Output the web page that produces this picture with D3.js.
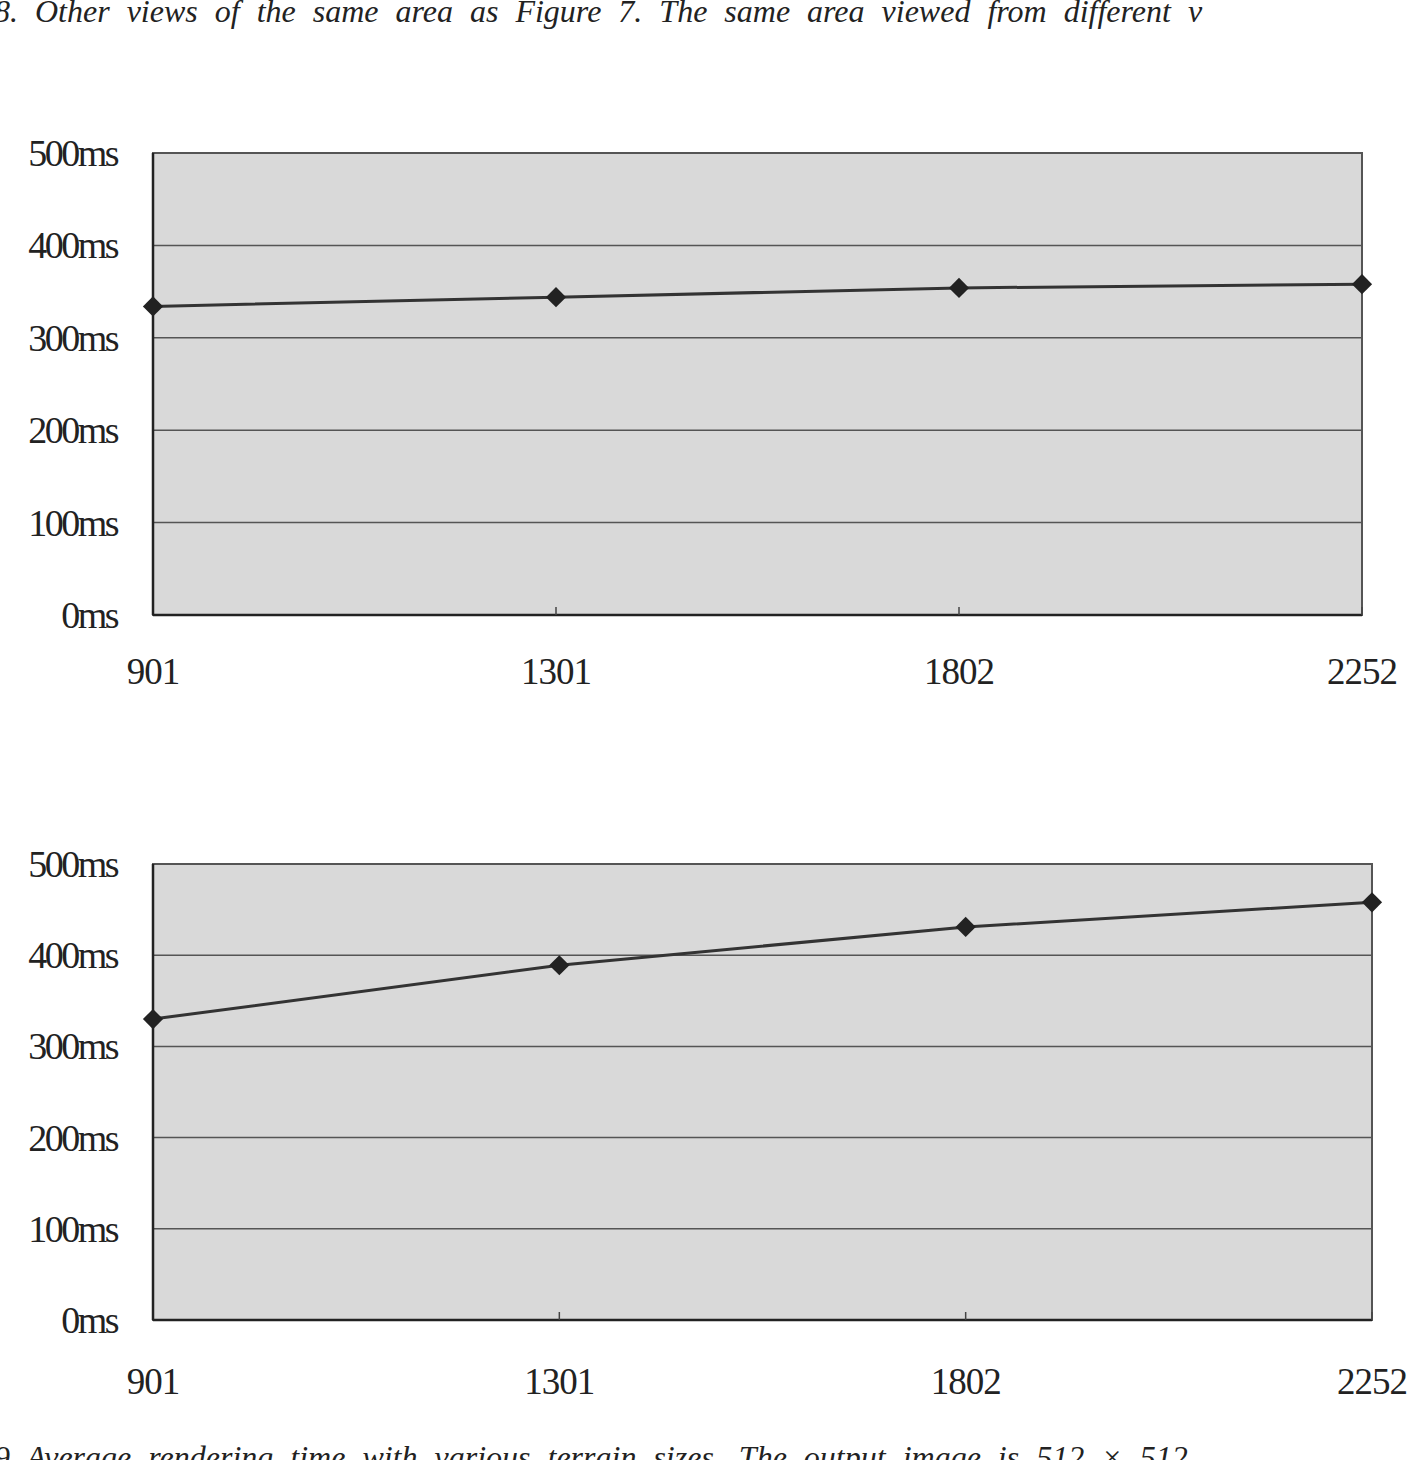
<!DOCTYPE html>
<html><head><meta charset="utf-8">
<script src="https://cdn.jsdelivr.net/npm/d3@7"></script>
<style>body{margin:0;background:#fff}svg text{font-family:"Liberation Serif","DejaVu Serif",serif;fill:#222}</style>
</head><body><svg id="c" width="1408" height="1460"></svg>
<script>
const categories=["901","1301","1802","2252"];
const seriesTop=[334,344,354,358];
const seriesBottom=[330,389,431,458];
const yTicks=[0,100,200,300,400,500];
const captionTop="8. Other views of the same area as Figure 7. The same area viewed from different v";
const captionBottom="9 Average rendering time with various terrain sizes. The output image is 512 \u00d7 512";

const svg=d3.select("#c");
svg.append("text").attr("x",-6).attr("y",22).attr("font-size",32).attr("font-style","italic").attr("word-spacing",9).text(captionTop);
svg.append("text").attr("x",-6).attr("y",1468).attr("font-size",32).attr("font-style","italic").attr("word-spacing",9).text(captionBottom);

function chart(values,left,right,top,bottom,labelY){
  const g=svg.append("g");
  const x=d3.scalePoint().domain(categories).range([left,right]);
  const y=d3.scaleLinear().domain([0,500]).range([bottom,top]);
  g.append("rect").attr("x",left).attr("y",top).attr("width",right-left).attr("height",bottom-top).attr("fill","#d9d9d9").attr("stroke","#555").attr("stroke-width",2);
  g.selectAll(".grid").data(yTicks.slice(1,-1)).join("line").attr("x1",left).attr("x2",right).attr("y1",d=>y(d)).attr("y2",d=>y(d)).attr("stroke","#555").attr("stroke-width",1.5);
  g.append("line").attr("x1",left).attr("x2",right).attr("y1",bottom).attr("y2",bottom).attr("stroke","#222").attr("stroke-width",2.5);
  g.append("line").attr("x1",left).attr("x2",left).attr("y1",top).attr("y2",bottom).attr("stroke","#222").attr("stroke-width",2.5);
  g.selectAll(".tk").data(categories.slice(1)).join("line").attr("x1",d=>x(d)).attr("x2",d=>x(d)).attr("y1",bottom).attr("y2",bottom-8).attr("stroke","#444").attr("stroke-width",1.5);
  g.selectAll(".yl").data(yTicks).join("text").attr("x",117).attr("y",d=>y(d)+13).attr("text-anchor","end").attr("font-size",38).attr("letter-spacing",-2.5).text(d=>d+"ms");
  g.selectAll(".xl").data(categories).join("text").attr("x",d=>x(d)).attr("y",labelY).attr("text-anchor","middle").attr("font-size",37).attr("letter-spacing",-1).text(d=>d);
  const line=d3.line().x((d,i)=>x(categories[i])).y(d=>y(d));
  g.append("path").datum(values).attr("d",line).attr("fill","none").attr("stroke","#333").attr("stroke-width",3);
  g.selectAll(".pt").data(values).join("path").attr("d",d3.symbol(d3.symbolDiamond2,260)).attr("transform",(d,i)=>`translate(${x(categories[i])},${y(d)})`).attr("fill","#222");
}
chart(seriesTop,153,1362,153,615,684);
chart(seriesBottom,153,1372,864,1320,1394);
</script></body></html>
